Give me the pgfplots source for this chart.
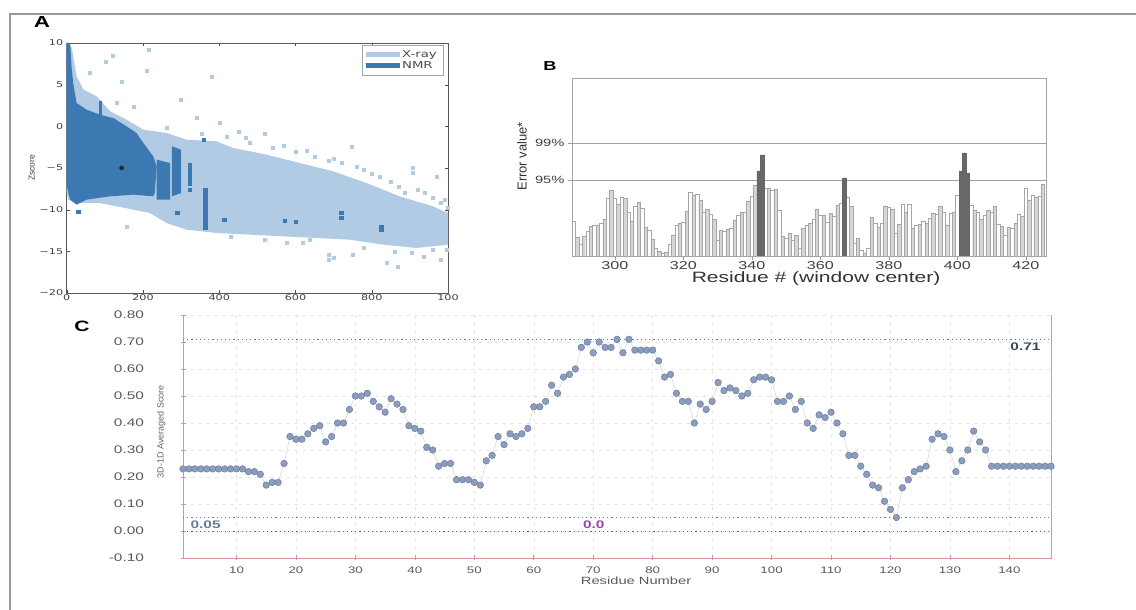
\documentclass[border=0pt]{standalone}
\usepackage{fontspec}
\setmainfont{Liberation Sans}
\newfontfamily\wide{Liberation Sans}[FakeStretch=1.4]
\newfontfamily\dwide{DejaVu Sans}[FakeStretch=1.4]
\usepackage{pgfplots}
\pgfplotsset{compat=1.18}
\definecolor{xray}{RGB}{178,203,228}
\definecolor{nmr}{RGB}{60,121,178}
\definecolor{ptfill}{RGB}{139,156,190}
\definecolor{ptdraw}{RGB}{108,126,160}
\definecolor{refblue}{RGB}{100,122,150}
\definecolor{refdark}{RGB}{60,74,94}
\definecolor{refpurple}{RGB}{150,70,170}
\definecolor{axred}{RGB}{214,150,150}
\definecolor{barlt}{RGB}{214,214,214}
\definecolor{bardk}{RGB}{105,105,105}

\begin{document}
\begin{tikzpicture}[x=1pt,y=1pt]
\path[use as bounding box] (0,0) rectangle (1136,610);
\draw[gray!80, line width=1.2pt] (9,596) -- (1136,596);
\draw[gray!80, line width=1.2pt] (10,596) -- (10,0);
\node[font=\wide\bfseries\fontsize{16}{16}\selectfont] at (42,588) {A};
\node[font=\wide\bfseries\fontsize{13}{13}\selectfont] at (550,544) {B};
\node[font=\wide\bfseries\fontsize{15}{15}\selectfont] at (82,284) {C};

% ---------- A: Z-score vs length ----------
\begin{axis}[
  at={(66.7pt,317pt)}, anchor=south west,
  width=381.3pt, height=250pt, scale only axis,
  xmin=0, xmax=1000, ymin=-20, ymax=10,
  axis line style={gray!70!black, line width=0.6pt},
  tick align=inside, major tick length=3pt, tick style={black!70},
  xtick={0,200,400,600,800,1000}, xticklabels={0,200,400,600,800,100},
  ytick={-20,-15,-10,-5,0,5,10}, yticklabels={−20,−15,−10,−5,0,5,10},
  tick label style={font=\dwide\fontsize{8}{8}\selectfont, text=black!75},
  xticklabel style={yshift=2pt},
  ylabel={Zscore}, ylabel style={font=\fontsize{8.5}{8.5}\selectfont, text=black!75, yshift=-2pt},
  legend style={at={(1,1)}, anchor=north east, xshift=-5pt, yshift=-2pt,
    draw=gray!70, font=\dwide\fontsize{9.5}{9.5}\selectfont, text=black!70,
    inner xsep=4pt, inner ysep=3pt, row sep=-1pt, cells={anchor=west}},
  legend image code/.code={\fill[#1] (0pt,-2.5pt) rectangle (34pt,2.5pt);},
]
\addplot[fill=xray, draw=none] coordinates {
  (0,10) (13,9.5) (26,6) (44,4.4) (79,3.6) (114,1.8) (157,0.8) (201,-0.4)
  (262,-0.8) (314,-1.6) (393,-1.8) (437,-2.6) (524,-3.4) (611,-4.4) (699,-5.4)
  (786,-6.8) (873,-8.4) (961,-9.6) (1000,-10.4)
  (1000,-14.2) (917,-14.6) (830,-14.2) (742,-13.6) (655,-13.4) (568,-13.2)
  (480,-13) (393,-12.8) (314,-12.4) (262,-11.6) (218,-10.4) (175,-10)
  (87,-9.2) (26,-9.2) (4,-8.8) (0,-8)};
\addlegendentry{X-ray}
\addplot[fill=nmr, draw=none] coordinates {
  (0,10) (9,10) (13,7) (17,5.2) (26,2.8) (52,2) (87,1.4) (122,1) (157,0)
  (183,-0.8) (201,-2) (227,-3.6) (236,-4.8) (231,-8) (227,-8.4) (175,-8.2)
  (114,-8.4) (52,-8.8) (26,-9.4) (9,-8.8) (0,-7.2)};
\addlegendentry{NMR}
% darker stripes
\addplot[fill=nmr, draw=none, forget plot] coordinates {(236,-4) (271,-4.4) (271,-8.8) (236,-8.8)};
\addplot[fill=nmr, draw=none, forget plot] coordinates {(276,-2.4) (300,-2.8) (300,-8) (276,-8.4)};
\addplot[fill=nmr, draw=none, forget plot] coordinates {(318,-4.4) (328,-4.4) (328,-7.2) (318,-7.2)};
\addplot[fill=nmr, draw=none, forget plot] coordinates {(358,-7.4) (371,-7.4) (371,-12.4) (358,-12.4)};
\addplot[fill=nmr, draw=none, forget plot] coordinates {(84,3) (92,3) (92,1.2) (84,1.2)};
% scattered X-ray points
\addplot[only marks, mark=square*, mark size=1.5pt, color=xray, forget plot] coordinates {
  (214,9.2) (103,7.8) (210,6.7) (380,5.9) (144,5.4) (175,2.4) (341,1) (450,-0.6)
  (520,-0.9) (568,-2.3) (747,-2.4) (686,-4.1) (908,-5) (908,-5.6) (886,-8)
  (991,-8.8) (970,-6) (157,-12) (686,-16) (869,-16.8) (838,-16.4) (935,-15.6)
  (996,-14.8) (751,-15.4) (576,-14) (638,-13.6) (120,8.5) (60,6.4) (300,3.2)
  (263,-0.2) (420,-1.3) (480,-2) (600,-3) (650,-3.6) (720,-4.4) (780,-5.2)
  (820,-6) (850,-6.6) (940,-8) (980,-9.2) (760,-4.8) (540,-2.6) (400,0.4)
  (130,2.8) (980,-16) (700,-15.8) (686,-15.4) (905,-15.2) (355,-0.9) (470,-1.4)
  (630,-2.9) (700,-3.9) (800,-5.7) (870,-7.2) (920,-7.6) (960,-8.6) (1000,-9.8)
  (780,-14.6) (860,-15) (960,-14.8) (620,-14) (520,-13.6) (430,-13.3)};
% scattered NMR points
\addplot[only marks, mark=square*, mark size=1.6pt, color=nmr, forget plot] coordinates {
  (572,-11.3) (600,-11.4) (720,-10.4) (720,-11) (825,-12) (825,-12.4) (413,-11.2)
  (290,-10.4) (322,-6.5) (322,-7.6) (288,-4) (288,-3) (360,-1.6) (30,-10.2)};
\addplot[only marks, mark=*, mark size=2pt, color=black!85, forget plot] coordinates {(144,-5)};
\end{axis}

% ---------- B: error values ----------
\begin{axis}[
  at={(572pt,354pt)}, anchor=south west,
  width=474pt, height=178pt, scale only axis,
  xmin=287.5, xmax=425.9, ymin=0, ymax=178,
  axis line style={gray!70, line width=0.6pt},
  xtick={300,320,340,360,380,400,420}, xticklabels={300,320,340,360,380,400,420},
  ytick={76,113}, yticklabels={95\%,99\%},
  ymajorgrids, grid style={gray!75, line width=0.6pt},
  tick align=outside, major tick length=4pt, tick style={gray!80},
  xtick pos=left, ytick pos=left,
  tick label style={font=\wide\fontsize{11.5}{11.5}\selectfont, text=black!75},
  xticklabel style={yshift=2pt},
  yticklabel style={font=\wide\fontsize{10.5}{10.5}\selectfont},
  xlabel={Residue \# (window center)},
  xlabel style={font=\wide\fontsize{15}{15}\selectfont, text=black!80,
    at={(rel axis cs:0.515,0)}, anchor=center, yshift=-23pt},
  ylabel={Error value*},
  ylabel style={font=\fontsize{13}{13}\selectfont, text=black!80,
    at={([xshift=-50pt]rel axis cs:0,0.56)}, anchor=center},
]
\addplot[ybar, bar width=1, bar shift=0pt, fill=white, draw=gray!70, line width=0.4pt] coordinates {
  (288,35) (290,12) (292,25) (294,31) (296,33) (298,58) (300,58) (302,59)
  (304,44) (306,50) (308,48) (310,26) (312,8) (314,3) (316,12) (318,31)
  (320,34) (322,64) (324,62) (326,44) (328,42) (330,16) (332,25) (334,28)
  (336,41) (338,44) (340,60) (344,68) (346,66) (348,46) (350,18) (352,16)
  (354,8) (356,31) (358,37) (360,41) (362,34) (364,40) (366,53) (368,59)
  (370,13) (372,6) (374,8) (376,33) (378,33) (380,49) (382,23) (384,52)
  (386,52) (388,31) (390,35) (392,38) (394,42) (396,44) (398,43) (400,61)
  (404,51) (406,44) (408,41) (410,44) (412,32) (414,21) (416,28) (418,42)
  (420,68) (422,61) (424,60)};
\addplot[ybar, bar width=1, bar shift=0pt, fill=barlt, draw=gray!70, line width=0.4pt] coordinates {
  (289,19) (291,20) (293,30) (295,31) (297,37) (299,66) (301,52) (303,58)
  (305,35) (307,54) (309,29) (311,17) (313,5) (315,4) (317,21) (319,33)
  (321,45) (323,61) (325,56) (327,47) (329,37) (331,26) (333,27) (335,36)
  (337,44) (339,55) (341,71) (345,68) (347,67) (349,20) (351,23) (353,21)
  (355,28) (357,33) (359,47) (361,41) (363,43) (365,51) (369,50) (371,18)
  (373,3) (375,39) (377,29) (379,50) (381,47) (383,32) (385,44) (387,28)
  (389,32) (391,33) (393,43) (395,50) (397,31) (399,44) (405,46) (407,37)
  (409,46) (411,50) (413,30) (415,29) (417,33) (419,40) (421,56) (423,59)
  (425,72)};
\addplot[ybar, bar width=1, bar shift=0pt, fill=bardk, draw=black!60, line width=0.4pt] coordinates {
  (342,85) (343,101) (367,78) (401,85) (402,103) (403,83)};
\end{axis}

% ---------- C: 3D-1D averaged score ----------
\begin{axis}[
  at={(183pt,52pt)}, anchor=south west,
  width=868pt, height=243pt, scale only axis,
  xmin=1, xmax=147, ymin=-0.1, ymax=0.8,
  clip=false,
  axis line style={draw=none},
  xtick={10,20,30,40,50,60,70,80,90,100,110,120,130,140},
  xticklabels={10,20,30,40,50,60,70,80,90,100,110,120,130,140},
  ytick={-0.1,0,0.1,0.2,0.3,0.4,0.5,0.6,0.7,0.8},
  yticklabels={-0.10,0.00,0.10,0.20,0.30,0.40,0.50,0.60,0.70,0.80},
  tick style={draw=axred, line width=0.6pt}, tick align=center, major tick length=5pt,
  xtick pos=left, ytick pos=left,
  grid=major, grid style={gray!22, dash pattern=on 3pt off 5pt},
  xticklabel style={font=\wide\fontsize{9.5}{9.5}\selectfont, text=black!65, yshift=-3pt},
  yticklabel style={font=\wide\fontsize{11}{11}\selectfont, text=black!65, xshift=-33pt},
  xlabel={Residue Number},
  xlabel style={font=\wide\fontsize{10.5}{10.5}\selectfont, text=black!65,
    at={(rel axis cs:0.522,0)}, anchor=center, yshift=-23pt},
  ylabel={3D-1D Averaged Score},
  ylabel style={font=\fontsize{9}{9}\selectfont, text=black!60,
    at={([xshift=-14pt]rel axis cs:0,0.52)}, anchor=south},
]
\draw[axred, line width=0.9pt] (rel axis cs:0,1) -- (rel axis cs:0,0) -- (rel axis cs:1,0) -- (rel axis cs:1,1);
\addplot[refblue, line width=0.9pt, dash pattern=on 1.2pt off 3pt] coordinates {(1,0.71) (147,0.71)};
\addplot[refblue, line width=0.9pt, dash pattern=on 1.2pt off 3pt] coordinates {(1,0.05) (147,0.05)};
\addplot[refpurple, line width=0.9pt, dash pattern=on 1.2pt off 3pt] coordinates {(1,0) (147,0)};
\node[font=\wide\bfseries\fontsize{11}{11}\selectfont, text=refdark] at (axis cs:142.7,0.683) {0.71};
\node[font=\wide\bfseries\fontsize{11}{11}\selectfont, text=refblue] at (axis cs:4.8,0.024) {0.05};
\node[font=\wide\bfseries\fontsize{11}{11}\selectfont, text=refpurple] at (axis cs:70.1,0.024) {0.0};
\addplot[gray!35, line width=0.5pt, mark=*, mark size=3.3pt,
  mark options={fill=ptfill, draw=ptdraw, line width=0.5pt}] coordinates {
  (1,0.23) (2,0.23) (3,0.23) (4,0.23) (5,0.23) (6,0.23) (7,0.23) (8,0.23)
  (9,0.23) (10,0.23) (11,0.23) (12,0.22) (13,0.22) (14,0.21) (15,0.17)
  (16,0.18) (17,0.18) (18,0.25) (19,0.35) (20,0.34) (21,0.34) (22,0.36)
  (23,0.38) (24,0.39) (25,0.33) (26,0.35) (27,0.40) (28,0.40) (29,0.45)
  (30,0.50) (31,0.50) (32,0.51) (33,0.48) (34,0.46) (35,0.44) (36,0.49)
  (37,0.47) (38,0.45) (39,0.39) (40,0.38) (41,0.37) (42,0.31) (43,0.30)
  (44,0.24) (45,0.25) (46,0.25) (47,0.19) (48,0.19) (49,0.19) (50,0.18)
  (51,0.17) (52,0.26) (53,0.28) (54,0.35) (55,0.32) (56,0.36) (57,0.35)
  (58,0.36) (59,0.38) (60,0.46) (61,0.46) (62,0.48) (63,0.54) (64,0.51)
  (65,0.57) (66,0.58) (67,0.60) (68,0.68) (69,0.70) (70,0.66) (71,0.70)
  (72,0.68) (73,0.68) (74,0.71) (75,0.66) (76,0.71) (77,0.67) (78,0.67)
  (79,0.67) (80,0.67) (81,0.63) (82,0.57) (83,0.58) (84,0.51) (85,0.48)
  (86,0.48) (87,0.40) (88,0.47) (89,0.45) (90,0.48) (91,0.55) (92,0.52)
  (93,0.53) (94,0.52) (95,0.50) (96,0.51) (97,0.56) (98,0.57) (99,0.57)
  (100,0.56) (101,0.48) (102,0.48) (103,0.50) (104,0.45) (105,0.48)
  (106,0.40) (107,0.38) (108,0.43) (109,0.42) (110,0.44) (111,0.40)
  (112,0.36) (113,0.28) (114,0.28) (115,0.24) (116,0.21) (117,0.17)
  (118,0.16) (119,0.11) (120,0.08) (121,0.05) (122,0.16) (123,0.19)
  (124,0.22) (125,0.23) (126,0.24) (127,0.34) (128,0.36) (129,0.35)
  (130,0.30) (131,0.22) (132,0.26) (133,0.30) (134,0.37) (135,0.33)
  (136,0.30) (137,0.24) (138,0.24) (139,0.24) (140,0.24) (141,0.24)
  (142,0.24) (143,0.24) (144,0.24) (145,0.24) (146,0.24) (147,0.24)};
\end{axis}
\end{tikzpicture}
\end{document}
